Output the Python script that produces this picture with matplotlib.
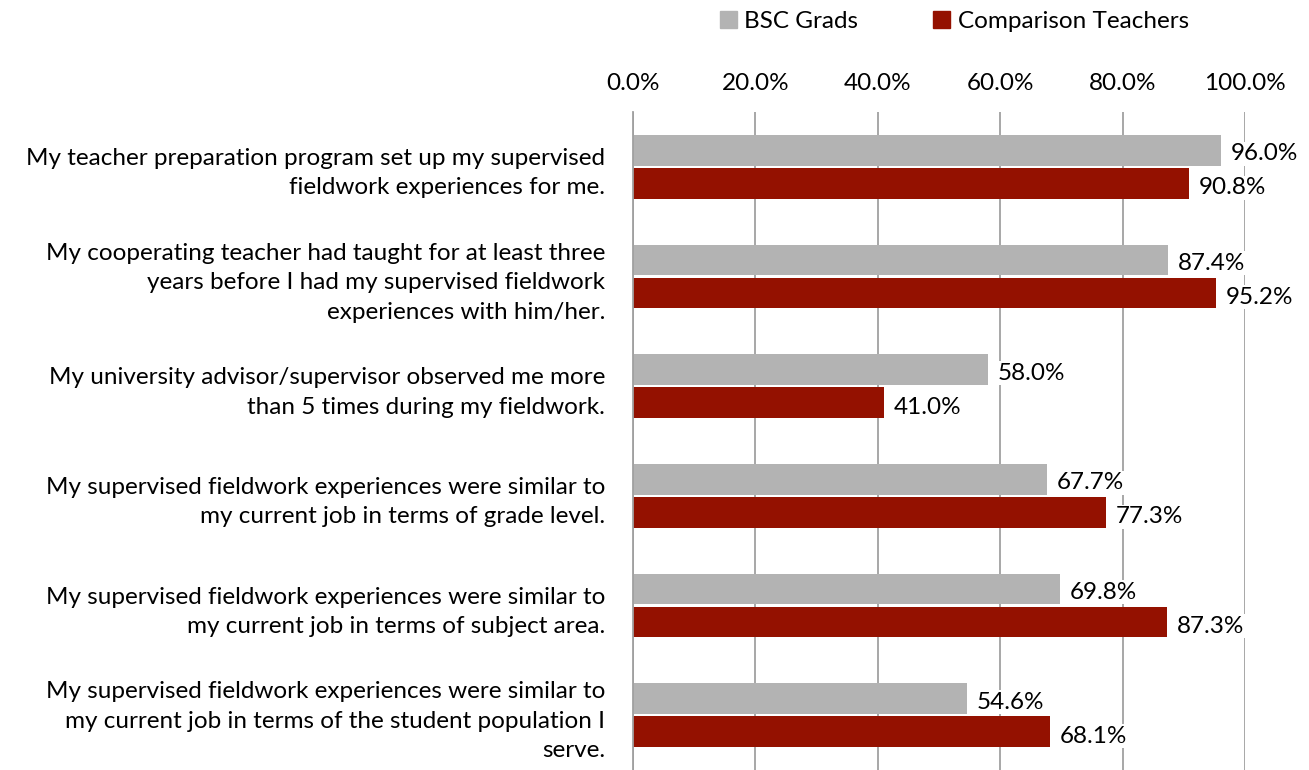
import matplotlib
matplotlib.use('Agg')
import matplotlib.pyplot as plt
from matplotlib.patches import Patch
import numpy as np

plt.rcParams['font.family'] = ['Lato', 'DejaVu Sans']

categories = [
    'My teacher preparation program set up my supervised\nfieldwork experiences for me.',
    'My cooperating teacher had taught for at least three\nyears before I had my supervised fieldwork\nexperiences with him/her.',
    'My university advisor/supervisor observed me more\nthan 5 times during my fieldwork.',
    'My supervised fieldwork experiences were similar to\nmy current job in terms of grade level.',
    'My supervised fieldwork experiences were similar to\nmy current job in terms of subject area.',
    'My supervised fieldwork experiences were similar to\nmy current job in terms of the student population I\nserve.',
]
bsc_grads = [96.0, 87.4, 58.0, 67.7, 69.8, 54.6]
comparison = [90.8, 95.2, 41.0, 77.3, 87.3, 68.1]
series_names = ['BSC Grads', 'Comparison Teachers']
x_ticks = [0, 20, 40, 60, 80, 100]

gray = '#b3b3b3'
red = '#941100'
fs = 17.5

fig = plt.figure(figsize=(13.09, 7.7), dpi=100)
ax = fig.add_axes([0.4836, 0.0, 0.4675, 0.8545])

y = np.arange(len(categories))
h = 0.28
ax.barh(y - h / 2 - 0.01, bsc_grads, height=h, color=gray, zorder=2)
ax.barh(y + h / 2 + 0.01, comparison, height=h, color=red, zorder=2)

for yi, v in zip(y, bsc_grads):
    ax.text(v + 1.6, yi - h / 2 + 0.02, '%.1f%%' % v, va='center', ha='left', fontsize=fs,
            bbox=dict(facecolor='white', edgecolor='none', pad=1), zorder=3)
for yi, v in zip(y, comparison):
    ax.text(v + 1.6, yi + h / 2 + 0.05, '%.1f%%' % v, va='center', ha='left', fontsize=fs,
            bbox=dict(facecolor='white', edgecolor='none', pad=1), zorder=3)

ax.set_xlim(0, 100)
ax.set_ylim(len(categories) - 0.5, -0.5)
ax.set_xticks(x_ticks)
ax.set_xticklabels(['%.1f%%' % t for t in x_ticks], fontsize=fs)
ax.xaxis.tick_top()
ax.tick_params(axis='x', length=0, pad=13)
ax.set_yticks(y)
ax.set_yticklabels(categories, fontsize=fs, linespacing=1.5)
ax.tick_params(axis='y', length=0, pad=20)
ax.grid(axis='x', color='#a0a0a0', linewidth=1.3, zorder=0)
ax.set_axisbelow(True)
for s in ['top', 'right', 'bottom']:
    ax.spines[s].set_visible(False)
ax.spines['left'].set_color('#a0a0a0')
ax.spines['left'].set_linewidth(1.3)

handles = [Patch(color=gray), Patch(color=red)]
fig.legend(handles, series_names, loc='center', bbox_to_anchor=(0.729, 0.972), ncol=2,
           frameon=False, fontsize=fs, handlelength=0.7, handleheight=0.7,
           handletextpad=0.3, columnspacing=3.1)

plt.savefig('out.png')
